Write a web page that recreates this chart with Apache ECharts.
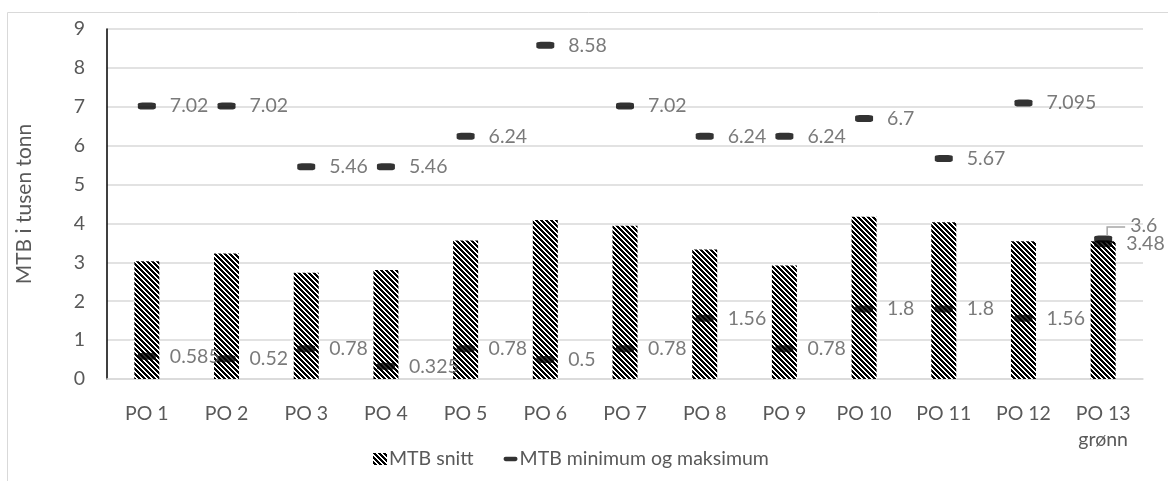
<!DOCTYPE html>
<html>
<head>
    <meta charset="UTF-8">
    <title>MTB</title>
    <style>
        html, body { margin: 0; padding: 0; background: #fff; }
        #main { width: 1168px; height: 481px; }
    </style>
</head>
<body>
    <div id="main"></div>
    <script src="https://cdn.jsdelivr.net/npm/echarts@6/dist/echarts.min.js"></script>
    <script type="text/javascript">
        // data
        var categories = ['PO 1', 'PO 2', 'PO 3', 'PO 4', 'PO 5', 'PO 6', 'PO 7', 'PO 8', 'PO 9', 'PO 10', 'PO 11', 'PO 12', 'PO 13\ngrønn'];
        var snitt = [3.03, 3.23, 2.73, 2.80, 3.56, 4.09, 3.94, 3.33, 2.92, 4.17, 4.03, 3.54, 3.54];
        var minimum = [0.585, 0.52, 0.78, 0.325, 0.78, 0.5, 0.78, 1.56, 0.78, 1.8, 1.8, 1.56, 3.48];
        var maksimum = [7.02, 7.02, 5.46, 5.46, 6.24, 8.58, 7.02, 6.24, 6.24, 6.7, 5.67, 7.095, 3.6];
        var yTicks = [0, 1, 2, 3, 4, 5, 6, 7, 8, 9];

        var font = 'Lato, "Noto Sans", sans-serif';
        var grey = '#595959';
        var last = maksimum.length - 1;

        // hatch pattern (wide downward diagonal), drawn pixel by pixel so it stays crisp
        function hatch() {
            var n = 5;
            var c = document.createElement('canvas');
            c.width = n; c.height = n;
            var ctx = c.getContext('2d');
            ctx.fillStyle = '#fff';
            ctx.fillRect(0, 0, n, n);
            ctx.fillStyle = '#000';
            for (var y = 0; y < n; y++) {
                for (var x = 0; x < n; x++) {
                    var d = ((x - y) % n + n) % n;
                    if (d < 3) ctx.fillRect(x, y, 1, 1);
                }
            }
            return { image: c, repeat: 'repeat' };
        }
        var pattern = hatch();

        var myChart = echarts.init(document.getElementById('main'));

        var dashLabel = {
            show: true,
            position: 'right',
            distance: 14,
            color: grey,
            fontFamily: font,
            fontSize: 19.5
        };

        myChart.setOption({
            animation: false,
            textStyle: { fontFamily: font },
            graphic: [{
                type: 'rect',
                shape: { x: 7.5, y: 12.5, width: 1300, height: 600 },
                style: { fill: 'none', stroke: '#d9d9d9', lineWidth: 1 },
                silent: true
            }],
            grid: { left: 107, right: 25, top: 29, bottom: 102 },
            legend: {
                bottom: 7,
                left: 368,
                itemGap: 30,
                itemWidth: 14,
                itemHeight: 12,
                textStyle: { color: grey, fontSize: 19.5, fontFamily: font, padding: [0, 0, 0, -3] },
                data: [
                    { name: 'MTB snitt', icon: 'rect', itemStyle: { color: pattern } },
                    { name: 'MTB minimum og maksimum', icon: 'path://M3,0 L19,0 A3.5,3.5 0 0 1 19,7 L3,7 A3.5,3.5 0 0 1 3,0 Z' }
                ]
            },
            xAxis: {
                type: 'category',
                data: categories,
                axisLine: { lineStyle: { color: '#d9d9d9', width: 1.5 } },
                axisTick: { show: false },
                axisLabel: { color: grey, fontSize: 19.5, fontFamily: font, margin: 22, lineHeight: 26 }
            },
            yAxis: {
                type: 'value',
                min: yTicks[0],
                max: yTicks[yTicks.length - 1],
                interval: 1,
                name: 'MTB i tusen tonn',
                nameLocation: 'middle',
                nameGap: 72,
                nameTextStyle: { color: grey, fontSize: 21, fontFamily: font },
                axisLine: { show: true, lineStyle: { color: '#000', width: 1.5 } },
                axisTick: { show: false },
                axisLabel: { color: grey, fontSize: 19.5, fontFamily: font, margin: 22 },
                splitLine: { lineStyle: { color: '#d9d9d9', width: 1.5 } }
            },
            series: [{
                name: 'MTB snitt',
                type: 'bar',
                data: snitt,
                barWidth: 25,
                itemStyle: { color: pattern }
            }, {
                name: 'MTB minimum og maksimum',
                type: 'scatter',
                data: minimum,
                symbol: 'roundRect',
                symbolSize: [18, 7],
                itemStyle: { color: '#000' },
                label: dashLabel,
                z: 5
            }, {
                name: 'MTB minimum og maksimum',
                type: 'scatter',
                data: maksimum,
                symbol: 'roundRect',
                symbolSize: [18, 7],
                itemStyle: { color: '#000' },
                label: dashLabel,
                labelLayout: function (p) {
                    if (p.dataIndex === last) {
                        return { dy: -13, dx: 4 };
                    }
                    return {};
                },
                z: 5
            }]
        });

        // leader line for the moved "3.6" label, anchored at the data point
        var pt = myChart.convertToPixel({ seriesIndex: 2 }, [last, maksimum[last]]);
        myChart.setOption({
            graphic: [{
                type: 'rect',
                shape: { x: 7.5, y: 12.5, width: 1300, height: 600 },
                style: { fill: 'none', stroke: '#d9d9d9', lineWidth: 1 },
                silent: true
            }, {
                type: 'polyline',
                shape: { points: [[pt[0] + 4, pt[1] - 3], [pt[0] + 4, pt[1] - 12], [pt[0] + 22, pt[1] - 12]] },
                style: { fill: 'none', stroke: '#a6a6a6', lineWidth: 1.5 },
                z: 10,
                silent: true
            }]
        });
    </script>
</body>
</html>
